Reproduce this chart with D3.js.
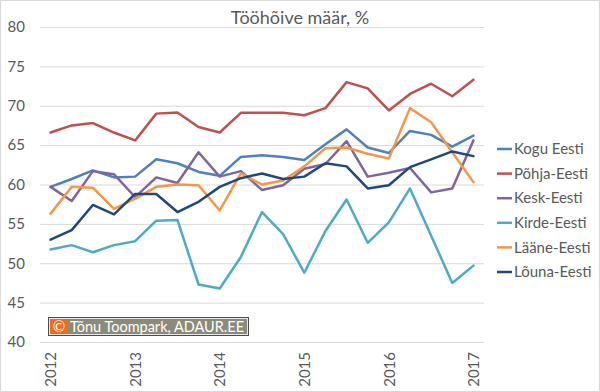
<!DOCTYPE html>
<html>
<head>
<meta charset="utf-8">
<script src="https://cdn.jsdelivr.net/npm/d3@7"></script>
<style>
  html, body { margin: 0; padding: 0; background: #fff; }
  svg { display: block; font-family: Lato, "Noto Sans", sans-serif; }
</style>
</head>
<body>
<svg id="chart" width="600" height="392"></svg>
<script>
const title = "Tööhõive määr, %";
const categories = ["2012 I","2012 II","2012 III","2012 IV","2013 I","2013 II","2013 III","2013 IV",
  "2014 I","2014 II","2014 III","2014 IV","2015 I","2015 II","2015 III","2015 IV",
  "2016 I","2016 II","2016 III","2016 IV","2017 I"];
const xTickLabels = ["2012","2013","2014","2015","2016","2017"];
const yTicks = [40,45,50,55,60,65,70,75,80];
const seriesNames = ["Kogu Eesti","Põhja-Eesti","Kesk-Eesti","Kirde-Eesti","Lääne-Eesti","Lõuna-Eesti"];
const seriesColors = ["#4f81bd","#c0504d","#8064a2","#4bacc6","#f79646","#1f497d"];
const koguEesti  = [59.7,60.7,61.8,60.9,61.0,63.2,62.7,61.6,61.1,63.5,63.7,63.5,63.1,65.1,67.0,64.7,64.0,66.8,66.3,64.8,66.2];
const pohjaEesti = [66.6,67.5,67.8,66.6,65.6,69.0,69.15,67.3,66.6,69.1,69.1,69.1,68.8,69.7,73.0,72.2,69.4,71.5,72.8,71.2,73.3];
const keskEesti  = [59.7,57.9,61.7,61.3,58.4,60.9,60.2,64.1,61.0,61.7,59.3,59.9,62.0,62.6,65.5,61.0,61.5,62.1,59.0,59.5,65.6];
const kirdeEesti = [51.75,52.3,51.4,52.3,52.8,55.4,55.5,47.3,46.8,50.8,56.5,53.7,48.8,54.1,58.1,52.6,55.2,59.5,53.5,47.5,49.7];
const laaneEesti = [56.3,59.7,59.6,56.9,58.2,59.7,60.0,59.9,56.7,61.4,60.0,60.5,62.3,64.6,64.7,63.9,63.3,69.7,67.9,64.1,60.3];
const lounaEesti = [53.0,54.2,57.4,56.2,58.8,58.8,56.5,57.8,59.7,60.8,61.4,60.7,61.0,62.7,62.3,59.5,59.9,62.2,63.2,64.2,63.6];
const seriesValues = [koguEesti, pohjaEesti, keskEesti, kirdeEesti, laaneEesti, lounaEesti];
const credit = "Tõnu Toompark, ADAUR.EE";

const svg = d3.select("#chart");
const textColor = "#595959";

// chart border
svg.append("rect").attr("x",0.5).attr("y",0.5).attr("width",599).attr("height",391)
  .attr("fill","#fff").attr("stroke","#d9d9d9");

const x = d3.scalePoint().domain(categories).range([40,484]).padding(0.5);
const y = d3.scaleLinear().domain([40,80]).range([342,27]);

// gridlines
svg.append("g").selectAll("line").data(yTicks).join("line")
  .attr("x1",40).attr("x2",484)
  .attr("y1",d=>y(d)+0.5).attr("y2",d=>y(d)+0.5)
  .attr("stroke","#d9d9d9").attr("stroke-width",1);

// y axis labels
const yAxis = d3.axisLeft(y).tickValues(yTicks).tickSize(0).tickPadding(0);
const gy = svg.append("g").attr("transform","translate(25,0)").call(yAxis);
gy.select(".domain").remove();
gy.selectAll("text").attr("fill",textColor).attr("font-size","15px")
  .attr("font-family","Lato, 'Noto Sans', sans-serif");

// x axis labels (year at each first quarter)
const xTickCats = xTickLabels.map(yr => categories.find(c => c.startsWith(yr)));
const xAxis = d3.axisBottom(x).tickValues(xTickCats).tickFormat(c => c.slice(0,4)).tickSize(0).tickPadding(0);
const gx = svg.append("g").attr("transform","translate(0,352)").call(xAxis);
gx.select(".domain").remove();
gx.selectAll("text").attr("fill",textColor).attr("font-size","15px")
  .attr("font-family","Lato, 'Noto Sans', sans-serif")
  .attr("transform","rotate(-90)").attr("text-anchor","end")
  .attr("x",0).attr("y",0).attr("dy","0.35em");

// lines
const line = d3.line().x((d,i)=>x(categories[i])).y(d=>y(d));
svg.append("g").selectAll("path").data(seriesValues).join("path")
  .attr("d", d=>line(d)).attr("fill","none")
  .attr("stroke",(d,i)=>seriesColors[i]).attr("stroke-width",2.5)
  .attr("stroke-linejoin","round").attr("stroke-linecap","round");

// title
svg.append("text").attr("x",300).attr("y",24).attr("text-anchor","middle")
  .attr("fill",textColor).attr("font-size","18px").text(title);

// legend
const lg = svg.append("g").selectAll("g").data(seriesNames).join("g")
  .attr("transform",(d,i)=>`translate(497,${149 + i*24.6})`);
lg.append("line").attr("x1",0).attr("x2",15).attr("y1",0).attr("y2",0)
  .attr("stroke",(d,i)=>seriesColors[i]).attr("stroke-width",2.5);
lg.append("text").attr("x",17).attr("y",0).attr("dy","0.35em")
  .attr("fill",textColor).attr("font-size","15px").text(d=>d);

// credit badge
const b = svg.append("g");
b.append("rect").attr("x",48.5).attr("y",317.5).attr("width",200).attr("height",18)
  .attr("fill","#8b8b7b").attr("stroke","#4d4d4d").attr("stroke-width",1);
b.append("rect").attr("x",49.5).attr("y",318.5).attr("width",198).attr("height",16)
  .attr("fill","none").attr("stroke","#e8e8e8").attr("stroke-width",1);
b.append("rect").attr("x",50).attr("y",319).attr("width",18).attr("height",15).attr("fill","#f26a1b");
b.append("text").attr("x",59).attr("y",327).attr("dy","0.35em").attr("text-anchor","middle")
  .attr("fill","#fff").attr("font-size","15px").text("©");
b.append("text").attr("x",70).attr("y",327).attr("dy","0.35em")
  .attr("fill","#fff").attr("font-size","15px").attr("textLength",174).attr("lengthAdjust","spacingAndGlyphs").text(credit);
</script>
</body>
</html>
